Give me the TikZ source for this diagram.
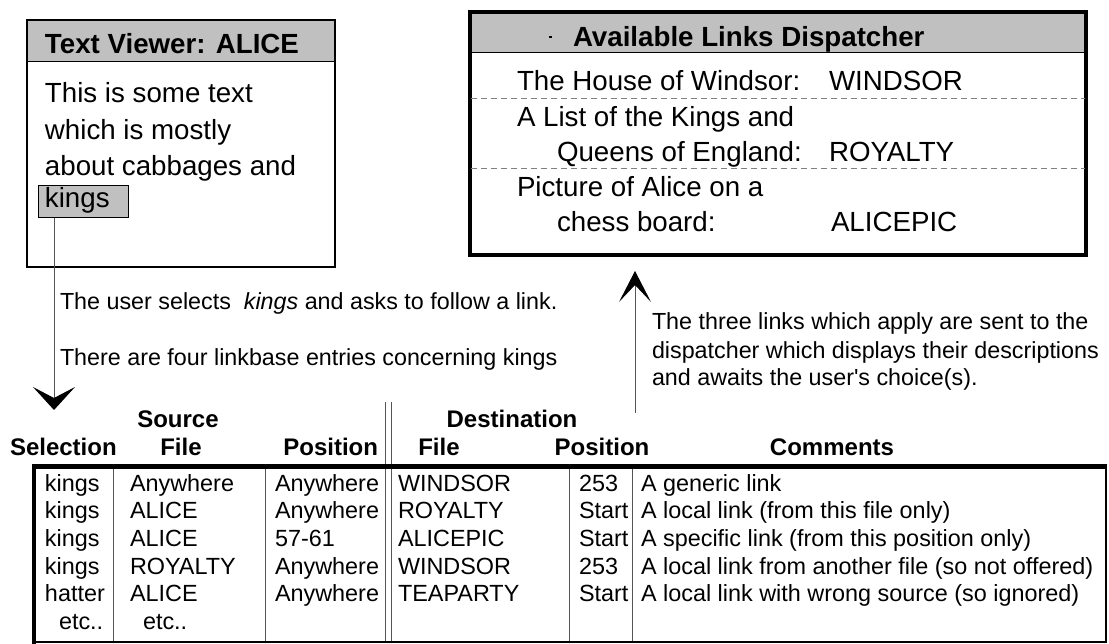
\documentclass[tikz,border=0pt]{standalone}
\usepackage{fontspec}
\setmainfont{Liberation Sans}
% same face without the TeX quote mapping, for a straight apostrophe
\newfontfamily\rawsans{Liberation Sans}
\usetikzlibrary{arrows.meta}
\definecolor{hdrgray}{HTML}{C0C0C0}
\definecolor{rulegray}{HTML}{555555}
\begin{document}
\begin{tikzpicture}[x=1pt,y=-1pt,
  txt/.style={inner sep=0pt, outer sep=0pt, anchor=base west},
  big/.style={txt, font=\fontsize{27.7}{33}\selectfont},
  bigb/.style={txt, font=\fontsize{27.7}{33}\selectfont\bfseries},
  note/.style={txt, font=\fontsize{23.3}{28}\selectfont},
  cell/.style={txt, font=\fontsize{23.4}{27.7}\selectfont},
  colhead/.style={inner sep=0pt, outer sep=0pt, anchor=base, font=\fontsize{24}{28}\selectfont\bfseries},
  frame/.style={draw=black, inner sep=0pt, outer sep=0pt, anchor=north west},
  dashline/.style={draw=gray, line width=0.8pt, dash pattern=on 6pt off 4pt},
  linkline/.style={draw=rulegray, line width=1pt},
  colrule/.style={draw=rulegray, line width=1pt}
]
\useasboundingbox (0,0) rectangle (1109,644);

% ---------- text viewer window ----------
\fill[hdrgray] (27,20) rectangle (335,62);
\draw[line width=1pt] (27,62) -- (335,62);
\node[frame, line width=2.3pt, minimum width=308pt, minimum height=247pt] (viewer) at (27,20) {};
\node[bigb] (viewertitle) at (45,54) {Text Viewer: ALICE};
\node[big] (line1) at (45,103) {This is some text};
\node[big] (line2) at (45,140) {which is mostly};
\node[big] (line3) at (45,176) {about cabbages and};
\node[frame, fill=hdrgray, line width=1pt, minimum width=90pt, minimum height=32pt] (kingsbox) at (38,186) {};
\node[big] (kingsword) at (45,208) {kings};

% ---------- dispatcher window ----------
\fill[hdrgray] (470,12) rectangle (1086,53);
\draw[line width=1pt] (470,53) -- (1086,53);
\node[frame, line width=3.5pt, minimum width=616pt, minimum height=243pt] (dispatcher) at (470,12) {};
\fill (549,36.5) rectangle (552,38);
\node[bigb] (disptitle) at (573,47) {Available Links Dispatcher};
\node[big] (d1a) at (517,91) {The House of Windsor:};
\node[big] (d1b) at (829,91) {WINDSOR};
\draw[dashline] (471,98) -- (1085,98);
\node[big] (d2a) at (517,127) {A List of the Kings and};
\node[big] (d2b) at (557,162) {Queens of England:};
\node[big] (d2c) at (829,162) {ROYALTY};
\draw[dashline] (471,168) -- (1085,168);
\node[big] (d3a) at (517,197) {Picture of Alice on a};
\node[big] (d3b) at (557,232) {chess board:};
\node[big] (d3c) at (831,232) {ALICEPIC};

% ---------- connectors and notes ----------
\coordinate (downtip) at (54,410);
\draw[linkline, -{Stealth[length=23pt, width=42pt, inset=11pt, color=black]}]
  ([xshift=16pt]kingsbox.south west) -- (downtip);
\node[note] (note1) at (60,310) {The user selects\ \ \textit{kings} and asks to follow a link.};
\node[note] (note2) at (60,366) {There are four linkbase entries concerning kings};

\coordinate (uptail) at (635,413);
\coordinate (uptip) at (635,271);
\draw[linkline, -{Stealth[length=31pt, width=32pt, inset=17pt, color=black]}] (uptail) -- (uptip);
% a multi-line node sits on the baseline of its last line
\node[note, align=left] (note3) at (652,386) {The three links which apply are sent to the\\dispatcher which displays their descriptions\\and awaits the user{\rawsans '}s choice(s).};

% ---------- linkbase table: headings ----------
\node[colhead] (hsource) at (178,427) {Source};
\node[colhead] (hdest) at (512,427) {Destination};
\node[colhead, anchor=base west] (hsel) at (10,455) {Selection};
\node[colhead] (hsfile) at (181,455) {File};
\node[colhead, anchor=base east] (hspos) at (378,455) {Position};
\node[colhead] (hdfile) at (439,455) {File};
\node[colhead] (hdpos) at (602,455) {Position};
\node[colhead] (hcomm) at (832,455) {Comments};

% ---------- linkbase table: rules ----------
\draw[colrule] (385,402) -- (385,642);
\draw[colrule] (391,402) -- (391,642);
\foreach \cx in {113,265,569,632} \draw[colrule] (\cx,468) -- (\cx,642);
\draw[line width=1.5pt] (1106,466) -- (1106,642) -- (34,642);
\draw[line width=4.5pt] (32,466.5) -- (1107,466.5);
\draw[line width=4pt] (34,464.5) -- (34,644);

% ---------- linkbase table: entries ----------
\foreach \r/\sel/\sfile/\spos/\dfile/\dpos/\comm in {
  1/kings/Anywhere/Anywhere/WINDSOR/253/A generic link,
  2/kings/ALICE/Anywhere/ROYALTY/Start/A local link (from this file only),
  3/kings/ALICE/57-61/ALICEPIC/Start/A specific link (from this position only),
  4/kings/ROYALTY/Anywhere/WINDSOR/253/A local link from another file (so not offered),
  5/hatter/ALICE/Anywhere/TEAPARTY/Start/A local link with wrong source (so ignored)} {
  \pgfmathsetmacro{\by}{491+(\r-1)*27.7}
  \node[cell] (sel\r) at (45,\by) {\sel};
  \node[cell] (sfile\r) at (130,\by) {\sfile};
  \node[cell] (spos\r) at (275,\by) {\spos};
  \node[cell] (dfile\r) at (398,\by) {\dfile};
  \node[cell] (dpos\r) at (579,\by) {\dpos};
  \node[cell] (comm\r) at (641,\by) {\comm};
}
\node[cell] (sel6) at (59,629.5) {etc..};
\node[cell] (sfile6) at (143,629.5) {etc..};
\end{tikzpicture}
\end{document}
